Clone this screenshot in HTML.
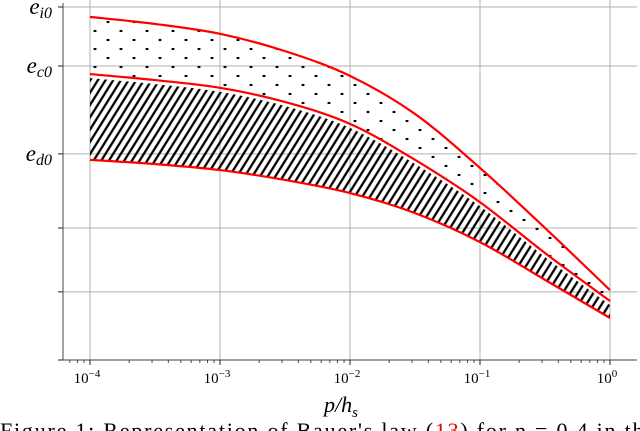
<!DOCTYPE html>
<html><head><meta charset="utf-8"><style>
html,body{margin:0;padding:0;background:#fff;}
svg{display:block;font-family:"Liberation Serif",serif;}
</style></head><body>
<svg id="c" width="640" height="431">
<defs>
<pattern id="dots" width="26" height="18" patternUnits="userSpaceOnUse">
<ellipse cx="4" cy="4" rx="1.6" ry="1.1" fill="#000"/>
<ellipse cx="17" cy="13" rx="1.6" ry="1.1" fill="#000"/>
</pattern>
<pattern id="hatch" width="6.5" height="12" patternUnits="userSpaceOnUse" patternTransform="rotate(32)">
<line x1="2" y1="0" x2="2" y2="12" stroke="#000" stroke-width="2.3"/>
</pattern>
</defs>
<g id="grid"></g>
<g id="bands"></g>
<g id="axes"></g>
<text x="341" y="412" font-size="22" font-style="italic" text-anchor="middle">p/h<tspan font-size="15" dy="5">s</tspan></text>
<text x="0" y="438" font-size="22" textLength="655" lengthAdjust="spacing">Figure 1: Representation of Bauer's law (<tspan fill="#e00">13</tspan>) for n = 0.4 in the</text>
</svg>
<script>
const xExp = [-4, -3.5, -3, -2.5, -2, -1.5, -1, -0.5, 0];
const topCurve = [0.972, 0.952, 0.924, 0.875, 0.805, 0.697, 0.544, 0.374, 0.198];
const midCurve = [0.810, 0.793, 0.771, 0.731, 0.669, 0.567, 0.447, 0.303, 0.167];
const lowCurve = [0.567, 0.555, 0.538, 0.510, 0.473, 0.416, 0.334, 0.227, 0.119];
const xTickExp = [-4, -3, -2, -1, 0];
const yTickVals = [1.0, 0.833, 0.584, 0.374, 0.193, 0.0];
const yTickLabels = ["i0", "c0", "d0", "", "", ""];

const NS = "http://www.w3.org/2000/svg";
const L = 63, R = 637, B = 360;
const X = e => 610 + e * 130;
const Y = v => 360 - v * 353;
function mk(tag, attrs, parent) {
  const el = document.createElementNS(NS, tag);
  for (const k in attrs) el.setAttribute(k, attrs[k]);
  parent.appendChild(el);
  return el;
}
const grid = document.getElementById('grid'), bands = document.getElementById('bands'), axes = document.getElementById('axes');
xTickExp.forEach(e => {
  const g = mk('line', {x1: X(e), x2: X(e), y1: 0, y2: B, stroke: '#b0b0b0', 'stroke-width': 1}, grid);
  
  
});
yTickVals.forEach(v => {
  if (v <= 0) return;
  const g = mk('line', {x1: L, x2: R, y1: Y(v), y2: Y(v), stroke: '#b0b0b0', 'stroke-width': 1}, grid);
  
  
});
function pts(arr) { return arr.map((v, i) => [X(xExp[i]), Y(v)]); }
function smooth(p) {
  let d = '';
  for (let i = 0; i < p.length; i++) {
    if (i === 0) { d += 'M' + p[0][0] + ',' + p[0][1]; continue; }
    const p0 = p[Math.max(i - 2, 0)], p1 = p[i - 1], p2 = p[i], p3 = p[Math.min(i + 1, p.length - 1)];
    const c1 = [p1[0] + (p2[0] - p0[0]) / 6, p1[1] + (p2[1] - p0[1]) / 6];
    const c2 = [p2[0] - (p3[0] - p1[0]) / 6, p2[1] - (p3[1] - p1[1]) / 6];
    d += 'C' + c1[0] + ',' + c1[1] + ' ' + c2[0] + ',' + c2[1] + ' ' + p2[0] + ',' + p2[1];
  }
  return d;
}
function reversePath(p) { return smooth(p.slice().reverse()).replace(/^M/, 'L'); }
const pt = pts(topCurve), pm = pts(midCurve), pl = pts(lowCurve);
const b1 = mk('path', {d: smooth(pt) + reversePath(pm) + 'Z', fill: 'url(#dots)'}, bands);


const pm2 = pm.map(q => [q[0], q[1] + 4]);
const b2 = mk('path', {d: smooth(pm2) + reversePath(pl) + 'Z', fill: 'url(#hatch)'}, bands);


[[pt, 'upper-curve'], [pm, 'middle-curve'], [pl, 'lower-curve']].forEach(([p, n]) => {
  const c = mk('path', {d: smooth(p), fill: 'none', stroke: '#f00', 'stroke-width': 2.2}, bands);
  
  
});
const s1 = mk('line', {x1: L, x2: L, y1: 3, y2: B, stroke: '#666', 'stroke-width': 1.2}, axes);


const s2 = mk('line', {x1: L, x2: R, y1: B, y2: B, stroke: '#666', 'stroke-width': 1.2}, axes);


xTickExp.forEach(e => {
  mk('line', {x1: X(e), x2: X(e), y1: B, y2: B + 5, stroke: '#222', 'stroke-width': 1}, axes);
  const t = mk('text', {x: X(e) - 3, y: B + 23, 'font-size': 15, 'text-anchor': 'middle'}, axes);
  
  
  t.textContent = '10';
  const s = mk('tspan', {dy: -6, 'font-size': 11}, t);
  s.textContent = e === 0 ? '0' : '\u2212' + Math.abs(e);
});
for (let d = -5; d <= 0; d++) for (let m = 2; m <= 9; m++) {
  const x = X(d + Math.log10(m));
  if (x < L || x > R) continue;
  mk('line', {x1: x, x2: x, y1: B, y2: B + 3, stroke: '#222', 'stroke-width': 0.8}, axes);
}
yTickVals.forEach((v, i) => {
  mk('line', {x1: L - 5, x2: L, y1: Y(v), y2: Y(v), stroke: '#222', 'stroke-width': 1}, axes);
  if (!yTickLabels[i]) return;
  const t = mk('text', {x: 52, y: Y(v) + 7, 'font-size': 23, 'font-style': 'italic', 'text-anchor': 'end'}, axes);
  
  
  t.textContent = 'e';
  const s = mk('tspan', {dy: 4, 'font-size': 16}, t);
  s.textContent = yTickLabels[i];
});
</script>
</body></html>
